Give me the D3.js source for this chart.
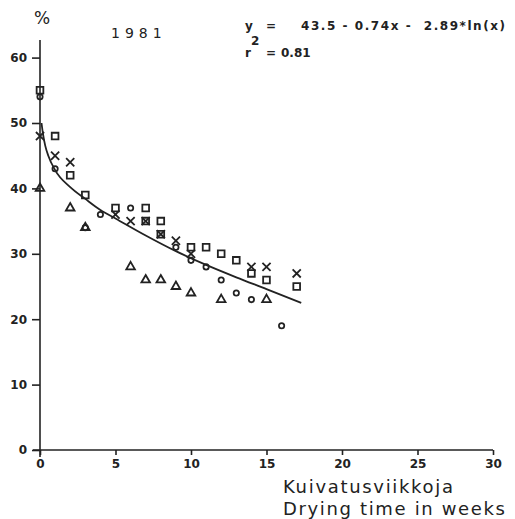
<!DOCTYPE html>
<html lang="fi">
<head>
  <meta charset="UTF-8">
  <title>1981 kuivatus</title>
  <style>
    body { margin: 0; background: #fff; }
    .axis text { font: bold 12px "DejaVu Sans", sans-serif; fill: #222; }
    .axis line { stroke: #222; stroke-width: 1.6px; }
    .mark { fill: none; stroke: #222; stroke-width: 1.8px; }
    .plot { font-family: "DejaVu Sans", sans-serif; fill: #222; }
  </style>
</head>
<body>
  <svg width="515" height="519"></svg>

  <script src="https://d3js.org/d3.v7.min.js"></script>
  <script>
    // values (weeks, %)
    const squareWeeks = [0, 1, 2, 3, 5, 7, 7, 8, 8, 10, 11, 12, 13, 14, 15, 17];
    const squareVals  = [55, 48, 42, 39, 37, 37, 35, 35, 33, 31, 31, 30, 29, 27, 26, 25];
    const crossWeeks = [0, 1, 2, 5, 6, 7, 8, 9, 10, 14, 15, 17];
    const crossVals  = [48, 45, 44, 36, 35, 35, 33, 32, 30, 28, 28, 27];
    const circleWeeks = [0, 1, 3, 4, 6, 9, 10, 11, 12, 13, 14, 16];
    const circleVals  = [54, 43, 34, 36, 37, 31, 29, 28, 26, 24, 23, 19];
    const triWeeks = [0, 2, 3, 6, 7, 8, 9, 10, 12, 15];
    const triVals  = [40, 37, 34, 28, 26, 26, 25, 24, 23, 23];
    // fitted curve
    const fitWeeks = [0.1, 0.2, 0.35, 0.55, 1, 2, 3, 4, 5, 7, 9, 11, 13, 15, 17.3];
    const fitVals  = [50, 48.3, 46.5, 45, 42.8, 40.2, 38.4, 36.7, 35.4, 32.8, 30.4, 28.3, 26.4, 24.6, 22.5];
    const xTicks = [0, 5, 10, 15, 20, 25, 30];
    const yTicks = [0, 10, 20, 30, 40, 50, 60];

    const svg = d3.select("svg");
    const x = d3.scaleLinear().domain([0, 30]).range([40, 493]);
    const y = d3.scaleLinear().domain([0, 60]).range([450, 57.6]);

    // axes
    const gy = svg.append("g").attr("class", "axis")
      .attr("transform", "translate(40,0)")
      .call(d3.axisLeft(y).tickValues(yTicks).tickSize(8).tickPadding(5));
    gy.select(".domain").remove();

    const gx = svg.append("g").attr("class", "axis")
      .attr("transform", "translate(0,450)")
      .call(d3.axisBottom(x).tickValues(xTicks).tickSize(5).tickPadding(4));
    gx.select(".domain").remove();

    svg.append("line").attr("x1", 40).attr("x2", 40).attr("y1", 40).attr("y2", 457)
      .attr("stroke", "#222").attr("stroke-width", 1.6);
    svg.append("line").attr("x1", 33).attr("x2", x(30)).attr("y1", 450).attr("y2", 450)
      .attr("stroke", "#222").attr("stroke-width", 1.6);

    // fitted curve
    const line = d3.line().x(d => x(d[0])).y(d => y(d[1])).curve(d3.curveMonotoneX);
    svg.append("path")
      .datum(d3.zip(fitWeeks, fitVals))
      .attr("d", line)
      .attr("fill", "none")
      .attr("stroke", "#222")
      .attr("stroke-width", 1.8);

    // markers
    function drawSeries(weeks, vals, type, size) {
      svg.append("g").selectAll("path")
        .data(d3.zip(weeks, vals))
        .join("path")
        .attr("class", "mark")
        .attr("transform", d => `translate(${x(d[0])},${y(d[1])})`)
        .attr("d", d3.symbol().type(type).size(size));
    }
    drawSeries(squareWeeks, squareVals, d3.symbolSquare, 45);
    drawSeries(crossWeeks, crossVals, d3.symbolTimes, 45);
    drawSeries(circleWeeks, circleVals, d3.symbolCircle, 22);
    drawSeries(triWeeks, triVals, d3.symbolTriangle, 32);

    // texts
    svg.append("text").attr("class", "plot").attr("x", 34).attr("y", 24)
      .attr("font-size", 17).text("%");
    svg.append("text").attr("class", "plot").attr("x", 111).attr("y", 38)
      .attr("font-size", 14).attr("letter-spacing", 5).text("1981");

    const eq = svg.append("g").attr("class", "plot")
      .attr("font-size", 12).attr("font-weight", "bold");
    eq.append("text").attr("x", 245).attr("y", 30).text("y");
    eq.append("text").attr("x", 266).attr("y", 30).text("=");
    eq.append("text").attr("x", 301).attr("y", 30)
      .attr("textLength", 204).attr("lengthAdjust", "spacing")
      .style("white-space", "pre").text("43.5 - 0.74x -  2.89*ln(x)");
    eq.append("text").attr("x", 245).attr("y", 57).text("r");
    eq.append("text").attr("x", 251).attr("y", 45).text("2");
    eq.append("text").attr("x", 266).attr("y", 57).text("=");
    eq.append("text").attr("x", 281).attr("y", 57).text("0.81");

    svg.append("text").attr("class", "plot").attr("x", 283).attr("y", 493)
      .attr("font-size", 18).attr("font-family", "Liberation Sans, sans-serif")
      .attr("textLength", 170).attr("lengthAdjust", "spacing")
      .text("Kuivatusviikkoja");
    svg.append("text").attr("class", "plot").attr("x", 283).attr("y", 515)
      .attr("font-size", 18).attr("font-family", "Liberation Sans, sans-serif")
      .attr("textLength", 222).attr("lengthAdjust", "spacing")
      .text("Drying time in weeks");
  </script>
</body>
</html>
